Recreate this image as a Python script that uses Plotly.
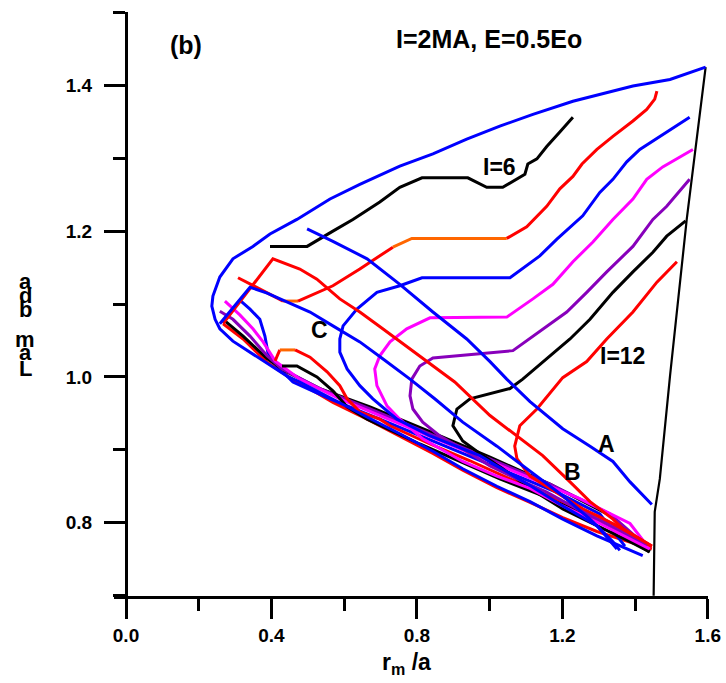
import plotly.graph_objects as go

FONT = "Liberation Sans, Arial, sans-serif"
BLUE = "#0000FF"; RED = "#FF0000"; MAG = "#FF00FF"; PUR = "#8800BB"; BLK = "#000000"; ORG = "#FF6600"

# ---------------- data ----------------
env_x = [1.594,1.496,1.394,1.322,1.229,1.119,1.028,0.937,0.844,0.753,0.643,0.561,0.470,0.396,0.349,0.294,0.258,0.239,0.236,0.245,0.258,0.294,0.341,0.388,0.443,0.478,0.569,0.663,0.753,0.844,0.926,1.020,1.111,1.201,1.295,1.421]
env_y = [1.425,1.408,1.399,1.390,1.378,1.360,1.344,1.326,1.306,1.289,1.264,1.244,1.216,1.196,1.179,1.162,1.137,1.111,1.097,1.079,1.066,1.049,1.034,1.018,1.001,0.993,0.969,0.945,0.922,0.898,0.874,0.850,0.829,0.805,0.782,0.755]

bound_x = [1.594,1.542,1.496,1.468,1.454,1.451]
bound_y = [1.425,1.216,1.001,0.860,0.815,0.700]

i6_x = [0.396,0.498,0.569,0.624,0.698,0.753,0.814,0.940,0.992,1.036,1.097,1.105,1.130,1.157,1.193,1.229]
i6_y = [1.179,1.179,1.200,1.216,1.240,1.260,1.273,1.273,1.260,1.260,1.278,1.292,1.299,1.316,1.336,1.356]

i7_x = [0.308,0.388,0.432,0.473,0.569,0.643,0.718,0.734,0.786,1.047,1.102,1.157,1.193,1.229,1.254,1.295,1.339,1.394,1.432,1.454,1.460]
i7_y = [1.136,1.116,1.104,1.104,1.125,1.148,1.173,1.178,1.190,1.190,1.206,1.234,1.258,1.275,1.292,1.312,1.330,1.351,1.367,1.381,1.392]
i7_segments = [(0, 2, RED), (2, 3, ORG), (3, 7, RED), (7, 9, ORG), (9, 20, RED)]

i8_x = [1.350,1.295,1.201,1.111,0.973,0.836,0.745,0.679,0.643,0.608,0.588,0.588,0.597,0.635,0.690,0.753,0.814,1.056,1.138,1.185,1.256,1.303,1.339,1.377,1.413,1.468,1.550]
i8_y = [0.764,0.796,0.823,0.851,0.892,0.919,0.942,0.970,0.988,1.011,1.034,1.052,1.070,1.093,1.116,1.125,1.136,1.136,1.166,1.189,1.221,1.253,1.271,1.295,1.312,1.330,1.356]

i9_x = [1.440,1.386,1.295,1.201,1.111,1.020,0.926,0.816,0.753,0.718,0.690,0.684,0.698,0.726,0.772,0.836,1.047,1.119,1.174,1.229,1.284,1.339,1.394,1.432,1.476,1.559]
i9_y = [0.764,0.778,0.801,0.823,0.847,0.864,0.884,0.915,0.942,0.960,0.988,1.011,1.029,1.048,1.066,1.081,1.082,1.107,1.127,1.158,1.185,1.216,1.244,1.271,1.288,1.312]

i10_x = [1.432,1.331,1.240,1.157,1.075,1.001,0.926,0.863,0.816,0.789,0.781,0.786,0.808,0.844,1.064,1.157,1.212,1.267,1.322,1.394,1.449,1.487,1.550]
i10_y = [0.768,0.796,0.819,0.842,0.860,0.878,0.901,0.919,0.938,0.956,0.974,0.997,1.015,1.026,1.036,1.069,1.089,1.116,1.144,1.179,1.216,1.234,1.271]

i11_x = [1.440,1.386,1.295,1.201,1.111,1.036,0.973,0.926,0.899,0.910,0.946,1.056,1.091,1.157,1.221,1.276,1.339,1.394,1.449,1.487,1.539]
i11_y = [0.760,0.774,0.796,0.819,0.847,0.874,0.895,0.912,0.933,0.956,0.970,0.984,0.997,1.025,1.052,1.079,1.116,1.144,1.171,1.193,1.214]

i12_x = [1.446,1.350,1.256,1.166,1.111,1.075,1.069,1.083,1.130,1.201,1.267,1.322,1.394,1.460,1.515]
i12_y = [0.768,0.796,0.819,0.847,0.864,0.888,0.905,0.933,0.956,0.999,1.021,1.052,1.089,1.130,1.158]

a_x = [0.498,0.569,0.663,0.753,0.844,0.937,1.001,1.047,1.111,1.201,1.276,1.339,1.386,1.446]
a_y = [1.203,1.186,1.162,1.127,1.089,1.052,1.021,0.997,0.966,0.929,0.905,0.884,0.856,0.825]

b_x = [0.267,0.404,0.478,0.525,0.588,0.643,0.706,0.772,0.844,0.904,1.001,1.075,1.146,1.221,1.276,1.339,1.366,1.446]
b_y = [1.073,1.162,1.148,1.134,1.107,1.089,1.066,1.042,1.015,0.993,0.947,0.919,0.892,0.856,0.829,0.805,0.792,0.768]

c_x = [0.258,0.341,0.388,0.443,0.506,0.569,0.643,0.706,0.781,0.849,0.926,1.020,1.091,1.201,1.276,1.339,1.358]
c_y = [1.073,1.123,1.115,1.103,1.089,1.070,1.048,1.025,0.997,0.970,0.938,0.905,0.878,0.837,0.805,0.774,0.762]

low7_x = [0.410,0.423,0.465,0.506,0.553,0.588,0.608,0.643,0.698,0.726,0.836,0.946,1.056,1.166,1.303,1.446]
low7_y = [1.022,1.037,1.037,1.027,1.007,0.988,0.970,0.952,0.942,0.933,0.908,0.885,0.860,0.836,0.808,0.767]
low7_segments = [(0, 1, RED), (1, 2, ORG), (2, 15, RED)]

low6_x = [0.429,0.470,0.525,0.569,0.608,0.663,0.718,0.808,0.918,1.028,1.166,1.303,1.440]
low6_y = [1.015,1.015,1.000,0.981,0.959,0.942,0.929,0.908,0.884,0.860,0.833,0.803,0.760]

nose_mag_x = [0.272,0.313,0.349,0.377,0.410,0.478,0.588,0.753,0.918,1.083,1.248,1.386,1.440]
nose_mag_y = [1.104,1.085,1.066,1.048,1.022,0.997,0.970,0.936,0.901,0.867,0.833,0.799,0.764]

nose_pur_x = [0.258,0.294,0.341,0.388,0.429,0.533,0.671,0.836,1.001,1.166,1.331,1.440]
nose_pur_y = [1.090,1.079,1.056,1.029,1.011,0.984,0.956,0.922,0.888,0.853,0.812,0.764]

nose_blk_x = [0.267,0.322,0.388,0.437,0.533,0.671,0.836,1.001,1.166,1.331,1.440]
nose_blk_y = [1.079,1.056,1.025,1.008,0.984,0.959,0.925,0.890,0.853,0.810,0.760]

nose_red_x = [0.267,0.322,0.388,0.459,0.525,0.569,0.663,0.753,0.844,0.926,1.020,1.111,1.201,1.295,1.446]
nose_red_y = [1.073,1.052,1.020,0.996,0.978,0.965,0.942,0.919,0.895,0.872,0.848,0.828,0.807,0.788,0.764]

nose_blu_x = [0.316,0.341,0.368,0.382,0.390,0.415,0.459,0.561,0.698,0.863,1.028,1.193,1.303,1.372]
nose_blu_y = [1.104,1.093,1.079,1.056,1.034,1.015,0.993,0.970,0.942,0.908,0.874,0.840,0.812,0.768]

x_tickvals = [0.0, 0.4, 0.8, 1.2, 1.6]
x_ticktext = ["0.0", "0.4", "0.8", "1.2", "1.6"]
x_minor = [0.2, 0.6, 1.0, 1.4]
y_tickvals = [0.8, 1.0, 1.2, 1.4]
y_ticktext = ["0.8", "1.0", "1.2", "1.4"]
y_minor = [0.7, 0.9, 1.1, 1.3, 1.5]

curve_labels = ["I=6", "C", "I=12", "A", "B"]
curve_label_x = [1.028, 0.533, 1.364, 1.320, 1.229]
curve_label_y = [1.288, 1.064, 1.029, 0.908, 0.870]

y_title_letters = ["a", "d", "b", "m", "a", "L"]

# ---------------- figure ----------------
fig = go.Figure()

def add(x, y, color, width=3.0):
    fig.add_trace(go.Scatter(x=x, y=y, mode="lines", line=dict(color=color, width=width),
                             showlegend=False, hoverinfo="skip"))

def add_segments(x, y, segs):
    for a, b, c in segs:
        add(x[a:b + 1], y[a:b + 1], c)

add(bound_x, bound_y, BLK, 2.2)
add(nose_red_x, nose_red_y, RED)
add(nose_blu_x, nose_blu_y, BLUE)
add(nose_blk_x, nose_blk_y, BLK)
add(nose_pur_x, nose_pur_y, PUR)
add(nose_mag_x, nose_mag_y, MAG)
add(low6_x, low6_y, BLK)
add_segments(low7_x, low7_y, low7_segments)
add(i12_x, i12_y, RED)
add(i11_x, i11_y, BLK)
add(i10_x, i10_y, PUR)
add(i9_x, i9_y, MAG)
add(i8_x, i8_y, BLUE)
add_segments(i7_x, i7_y, i7_segments)
add(i6_x, i6_y, BLK)
add(a_x, a_y, BLUE)
add(b_x, b_y, RED)
add(c_x, c_y, BLUE)
add(env_x, env_y, BLUE)

bold = dict(family=FONT, color="black", weight="bold")

annotations = []
for t, x, y in zip(curve_labels, curve_label_x, curve_label_y):
    annotations.append(dict(text=t, x=x, y=y, xref="x", yref="y", showarrow=False,
                            font=dict(size=23, **bold)))
annotations.append(dict(text="I=2MA, E=0.5Eo", x=0.998, y=1.463, xref="x", yref="y",
                        showarrow=False, font=dict(size=25, **bold)))
annotations.append(dict(text="(b)", x=0.165, y=1.455, xref="x", yref="y",
                        showarrow=False, font=dict(size=25, **bold)))
annotations.append(dict(text="r<sub>m</sub> /a", x=(406 - 114) / 594, y=(596 - 663) / 584,
                        xref="paper", yref="paper", showarrow=False, xanchor="center", yanchor="middle",
                        font=dict(size=23, **bold)))
letter_py = [281, 295, 310, 339, 352, 368]
for ch, py in zip(y_title_letters, letter_py):
    annotations.append(dict(text=ch, x=(25 - 114) / 594, y=(596 - py) / 584, xref="paper", yref="paper",
                            showarrow=False, xanchor="center", yanchor="middle",
                            font=dict(size=22, **bold)))

fig.update_layout(
    width=726, height=683,
    margin=dict(l=114, r=18, t=12, b=87, pad=0, autoexpand=False),
    plot_bgcolor="white", paper_bgcolor="white",
    showlegend=False,
    font=dict(family=FONT, size=19, color="black"),
    annotations=annotations,
)
fig.update_xaxes(
    range=[-0.033, 1.6005], showgrid=False, zeroline=False, automargin=False,
    showline=True, linewidth=3, linecolor="black",
    ticks="outside", ticklen=20, tickwidth=3, tickcolor="black",
    tickmode="array", tickvals=x_tickvals, ticktext=x_ticktext,
    minor=dict(tickmode="array", tickvals=x_minor, ticks="outside", ticklen=12, tickwidth=3, tickcolor="black"),
    tickfont=dict(size=19, **bold),
)
fig.update_yaxes(
    range=[0.6995, 1.5005], anchor="free", position=12 / 594, automargin=False,
    showgrid=False, zeroline=False,
    showline=True, linewidth=3, linecolor="black",
    ticks="outside", ticklen=21, tickwidth=3, tickcolor="black",
    tickmode="array", tickvals=y_tickvals, ticktext=y_ticktext,
    ticklabelstandoff=8,
    minor=dict(tickmode="array", tickvals=y_minor, ticks="outside", ticklen=12, tickwidth=3, tickcolor="black"),
    tickfont=dict(size=19, **bold),
)

fig.write_html("out.html")
